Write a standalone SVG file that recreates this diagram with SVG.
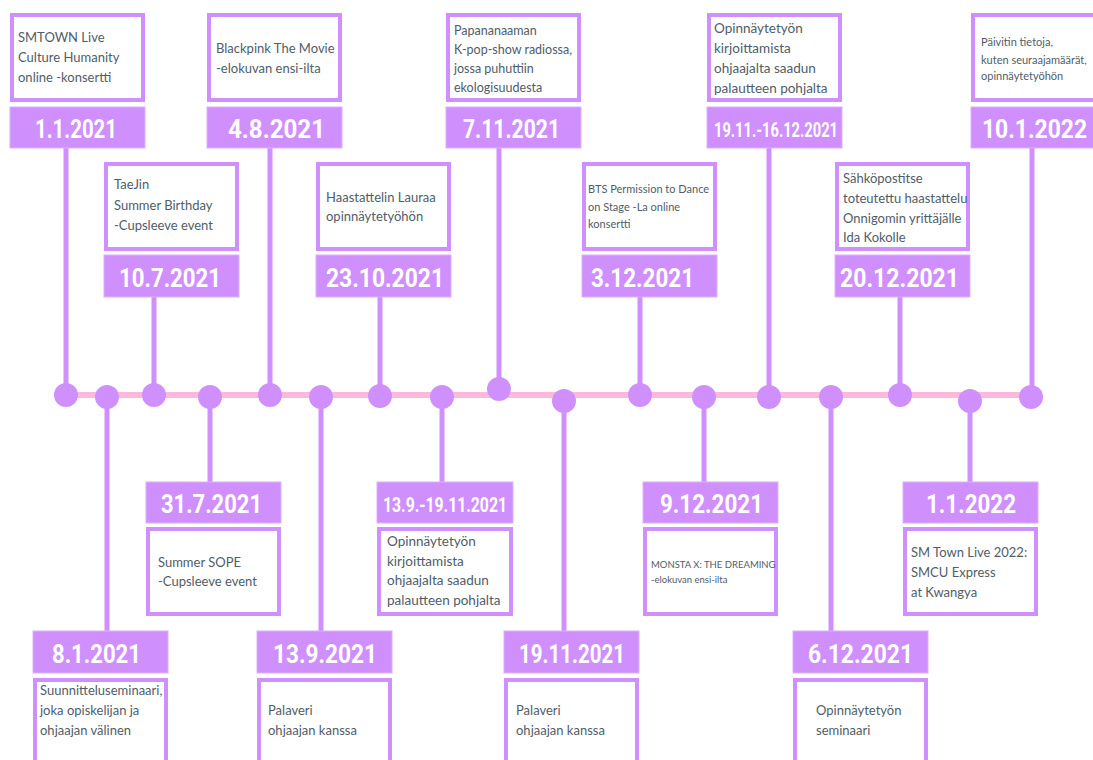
<svg xmlns="http://www.w3.org/2000/svg" width="1093" height="760" viewBox="0 0 1093 760">
<style>
.tb{fill:#ffffff;stroke:#cf90fd;stroke-width:4}
.db{fill:#cf90fd;stroke:#dcb0fc;stroke-width:1}
.dt{font-family:Roboto,"Liberation Sans",sans-serif;font-weight:700;font-size:26px;fill:#ffffff}
.ds{font-size:21px}
.bt{font-family:Lato,"Noto Sans","Liberation Sans",sans-serif;font-size:13px;fill:#505d68}
.stem{stroke:#cf90fd;stroke-width:5;fill:none}
.dot{fill:#cf90fd}
</style>
<rect width="1093" height="760" fill="#ffffff"/>
<g id="connectors">
<line x1="58" y1="395" x2="1040" y2="395" stroke="#ffb8dc" stroke-width="6"/>
<line class="stem" x1="66" y1="148" x2="66" y2="395"/>
<line class="stem" x1="270" y1="148" x2="270" y2="395"/>
<line class="stem" x1="499" y1="148" x2="499" y2="389"/>
<line class="stem" x1="769" y1="148" x2="769" y2="397"/>
<line class="stem" x1="1032" y1="148" x2="1032" y2="397"/>
<line class="stem" x1="154" y1="297" x2="154" y2="395"/>
<line class="stem" x1="380" y1="297" x2="380" y2="396"/>
<line class="stem" x1="640" y1="297" x2="640" y2="395"/>
<line class="stem" x1="900" y1="297" x2="900" y2="395"/>
<line class="stem" x1="210" y1="397" x2="210" y2="482"/>
<line class="stem" x1="442" y1="397" x2="442" y2="482"/>
<line class="stem" x1="704" y1="397" x2="704" y2="482"/>
<line class="stem" x1="970" y1="401" x2="970" y2="482"/>
<line class="stem" x1="107" y1="397" x2="107" y2="631"/>
<line class="stem" x1="321" y1="397" x2="321" y2="631"/>
<line class="stem" x1="564" y1="401" x2="564" y2="631"/>
<line class="stem" x1="831" y1="397" x2="831" y2="631"/>
<circle class="dot" cx="66" cy="395" r="12"/>
<circle class="dot" cx="107" cy="397" r="12"/>
<circle class="dot" cx="154" cy="395" r="12"/>
<circle class="dot" cx="210" cy="397" r="12"/>
<circle class="dot" cx="270" cy="395" r="12"/>
<circle class="dot" cx="321" cy="397" r="12"/>
<circle class="dot" cx="380" cy="396" r="12"/>
<circle class="dot" cx="442" cy="397" r="12"/>
<circle class="dot" cx="499" cy="389" r="12"/>
<circle class="dot" cx="564" cy="401" r="12"/>
<circle class="dot" cx="640" cy="395" r="12"/>
<circle class="dot" cx="704" cy="397" r="12"/>
<circle class="dot" cx="769" cy="397" r="12"/>
<circle class="dot" cx="831" cy="397" r="12"/>
<circle class="dot" cx="900" cy="395" r="12"/>
<circle class="dot" cx="970" cy="401" r="12"/>
<circle class="dot" cx="1031" cy="397" r="12"/>
</g>

<g id="n-1-1-2021">
<rect class="tb" x="12" y="15" width="131" height="85"/>
<text class="bt" x="18"><tspan x="18" y="42">SMTOWN Live</tspan><tspan x="18" y="62">Culture Humanity</tspan><tspan x="18" y="82">online -konsertti</tspan></text>
<rect class="db" x="10" y="107" width="135" height="41"/>
<text class="dt" x="35" y="138" textLength="82" lengthAdjust="spacingAndGlyphs">1.1.2021</text>
</g>
<g id="n-4-8-2021">
<rect class="tb" x="209" y="15" width="131" height="85"/>
<text class="bt"><tspan x="216" y="53">Blackpink The Movie</tspan><tspan x="216" y="73">-elokuvan ensi-ilta</tspan></text>
<rect class="db" x="207" y="107" width="135" height="41"/>
<text class="dt" x="228" y="138" textLength="97" lengthAdjust="spacingAndGlyphs">4.8.2021</text>
</g>
<g id="n-7-11-2021">
<rect class="tb" x="448" y="15" width="131" height="85"/>
<text class="bt" style="font-size:12.5px"><tspan x="454" y="35">Papananaaman</tspan><tspan x="454" y="54">K-pop-show radiossa,</tspan><tspan x="454" y="73">jossa puhuttiin</tspan><tspan x="454" y="92">ekologisuudesta</tspan></text>
<rect class="db" x="446" y="107" width="135" height="41"/>
<text class="dt" x="463" y="138" textLength="97" lengthAdjust="spacingAndGlyphs">7.11.2021</text>
</g>
<g id="n-19-11-16-12-2021">
<rect class="tb" x="709" y="15" width="131" height="85"/>
<text class="bt" style="font-size:13.5px"><tspan x="714" y="33">Opinnäytetyön</tspan><tspan x="714" y="53">kirjoittamista</tspan><tspan x="714" y="73">ohjaajalta saadun</tspan><tspan x="714" y="93">palautteen pohjalta</tspan></text>
<rect class="db" x="707" y="107" width="135" height="41"/>
<text class="dt ds" x="714" y="137" textLength="124" lengthAdjust="spacingAndGlyphs">19.11.-16.12.2021</text>
</g>
<g id="n-10-1-2022">
<rect class="tb" x="973" y="15" width="131" height="85"/>
<text class="bt" style="font-size:11px"><tspan x="981" y="46">Päivitin tietoja,</tspan><tspan x="981" y="64">kuten seuraajamäärät,</tspan><tspan x="981" y="80">opinnäytetyöhön</tspan></text>
<rect class="db" x="971" y="107" width="135" height="41"/>
<text class="dt" transform="matrix(0.88,0,0,1,982,138)" x="0" y="0">10.1.2022</text>
</g>

<g id="n-10-7-2021">
<rect class="tb" x="106" y="164" width="131" height="85"/>
<text class="bt"><tspan x="114" y="189">TaeJin</tspan><tspan x="114" y="210">Summer Birthday</tspan><tspan x="114" y="230">-Cupsleeve event</tspan></text>
<rect class="db" x="104" y="255" width="135" height="42"/>
<text class="dt" x="119" y="287" textLength="102" lengthAdjust="spacingAndGlyphs">10.7.2021</text>
</g>
<g id="n-23-10-2021">
<rect class="tb" x="318" y="164" width="131" height="85"/>
<text class="bt"><tspan x="326" y="202">Haastattelin Lauraa</tspan><tspan x="326" y="221">opinnäytetyöhön</tspan></text>
<rect class="db" x="316" y="255" width="135" height="42"/>
<text class="dt" x="326" y="287" textLength="118" lengthAdjust="spacingAndGlyphs">23.10.2021</text>
</g>
<g id="n-3-12-2021">
<rect class="tb" x="584" y="164" width="131" height="85"/>
<text class="bt" style="font-size:11px"><tspan x="588" y="193">BTS Permission to Dance</tspan><tspan x="588" y="211">on Stage -La online</tspan><tspan x="588" y="228">konsertti</tspan></text>
<rect class="db" x="582" y="255" width="135" height="42"/>
<text class="dt" x="591" y="287" textLength="103" lengthAdjust="spacingAndGlyphs">3.12.2021</text>
</g>
<g id="n-20-12-2021">
<rect class="tb" x="837" y="164" width="131" height="85"/>
<text class="bt"><tspan x="843" y="183">Sähköpostitse</tspan><tspan x="843" y="203">toteutettu haastattelu</tspan><tspan x="843" y="223">Onnigomin yrittäjälle</tspan><tspan x="843" y="242">Ida Kokolle</tspan></text>
<rect class="db" x="835" y="255" width="135" height="42"/>
<text class="dt" x="840" y="287" textLength="119" lengthAdjust="spacingAndGlyphs">20.12.2021</text>
</g>

<g id="n-31-7-2021">
<rect class="db" x="146" y="482" width="135" height="41"/>
<text class="dt" x="161" y="513" textLength="101" lengthAdjust="spacingAndGlyphs">31.7.2021</text>
<rect class="tb" x="148" y="529" width="131" height="85"/>
<text class="bt"><tspan x="158" y="567">Summer SOPE</tspan><tspan x="158" y="586">-Cupsleeve event</tspan></text>
</g>
<g id="n-13-9-19-11-2021">
<rect class="db" x="377" y="482" width="136" height="41"/>
<text class="dt ds" x="383" y="512" textLength="124" lengthAdjust="spacingAndGlyphs">13.9.-19.11.2021</text>
<rect class="tb" x="379" y="529" width="132" height="85"/>
<text class="bt" style="font-size:13.5px"><tspan x="387" y="546">Opinnäytetyön</tspan><tspan x="387" y="566">kirjoittamista</tspan><tspan x="387" y="585">ohjaajalta saadun</tspan><tspan x="387" y="605">palautteen pohjalta</tspan></text>
</g>
<g id="n-9-12-2021">
<rect class="db" x="643" y="482" width="135" height="41"/>
<text class="dt" x="660" y="513" textLength="103" lengthAdjust="spacingAndGlyphs">9.12.2021</text>
<rect class="tb" x="645" y="529" width="131" height="85"/>
<text class="bt" style="font-size:9.5px"><tspan x="651" y="568">MONSTA X: THE DREAMING</tspan><tspan x="651" y="583">-elokuvan ensi-ilta</tspan></text>
</g>
<g id="n-1-1-2022">
<rect class="db" x="903" y="482" width="135" height="41"/>
<text class="dt" x="926" y="513" textLength="90" lengthAdjust="spacingAndGlyphs">1.1.2022</text>
<rect class="tb" x="905" y="529" width="131" height="85"/>
<text class="bt"><tspan x="911" y="557">SM Town Live 2022:</tspan><tspan x="911" y="577">SMCU Express</tspan><tspan x="911" y="597">at Kwangya</tspan></text>
</g>

<g id="n-8-1-2021">
<rect class="db" x="33" y="631" width="135" height="42"/>
<text class="dt" x="52" y="663" textLength="89" lengthAdjust="spacingAndGlyphs">8.1.2021</text>
<rect class="tb" x="35" y="680" width="131" height="100"/>
<text class="bt"><tspan x="40" y="695">Suunnitteluseminaari,</tspan><tspan x="40" y="715">joka opiskelijan ja</tspan><tspan x="40" y="735">ohjaajan välinen</tspan></text>
</g>
<g id="n-13-9-2021">
<rect class="db" x="257" y="631" width="135" height="42"/>
<text class="dt" x="273" y="663" textLength="104" lengthAdjust="spacingAndGlyphs">13.9.2021</text>
<rect class="tb" x="259" y="680" width="131" height="100"/>
<text class="bt"><tspan x="268" y="715">Palaveri</tspan><tspan x="268" y="735">ohjaajan kanssa</tspan></text>
</g>
<g id="n-19-11-2021">
<rect class="db" x="504" y="631" width="135" height="42"/>
<text class="dt" x="519" y="663" textLength="106" lengthAdjust="spacingAndGlyphs">19.11.2021</text>
<rect class="tb" x="506" y="680" width="131" height="100"/>
<text class="bt"><tspan x="516" y="715">Palaveri</tspan><tspan x="516" y="735">ohjaajan kanssa</tspan></text>
</g>
<g id="n-6-12-2021">
<rect class="db" x="793" y="631" width="135" height="42"/>
<text class="dt" x="808" y="663" textLength="105" lengthAdjust="spacingAndGlyphs">6.12.2021</text>
<rect class="tb" x="795" y="680" width="131" height="100"/>
<text class="bt"><tspan x="816" y="715">Opinnäytetyön</tspan><tspan x="816" y="735">seminaari</tspan></text>
</g>
</svg>
